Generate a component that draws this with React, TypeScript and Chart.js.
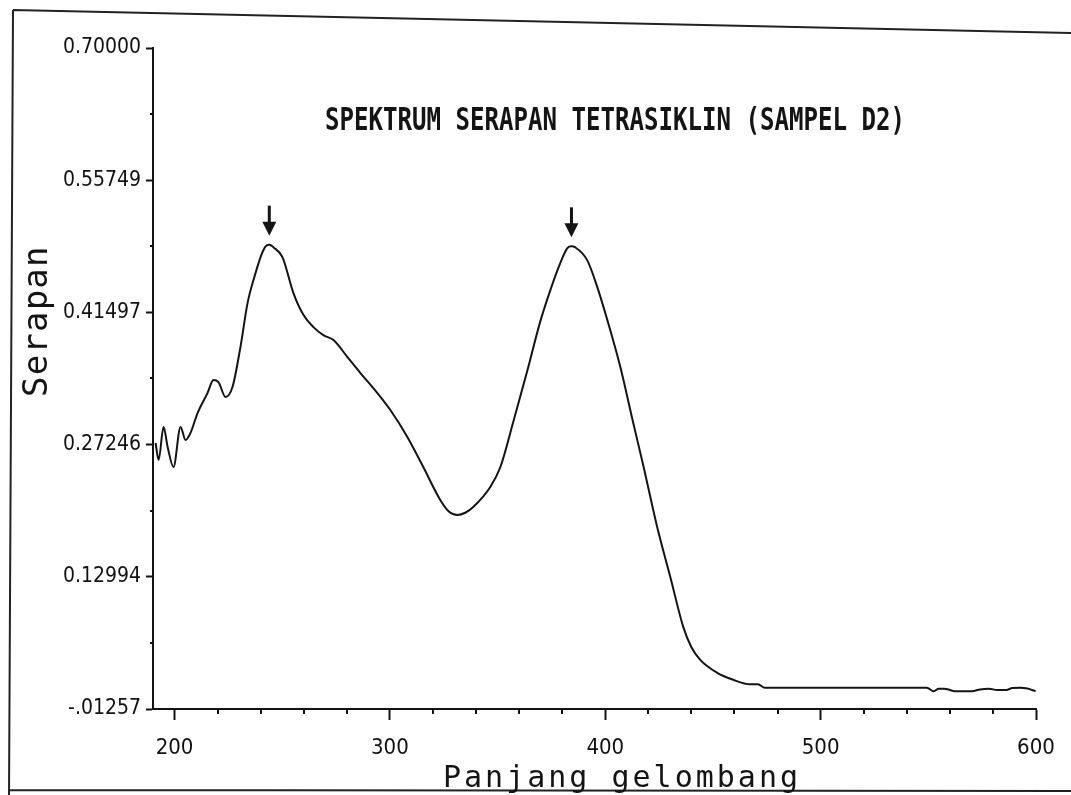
import React, { useEffect, useRef } from "react";
import { Chart, registerables } from "chart.js";

Chart.register(...registerables);

// ---- data ----
const wavelength = [
  191.2, 192.6, 194.9, 196.8, 199.5, 202.8, 205.1, 207.4, 210.7, 215.3,
  218.1, 220.4, 223.7, 226.9, 230.6, 233.9, 237.6, 240.5, 242.2, 244.0,
  246.0, 250.1, 255.2, 259.9, 264.5, 269.1, 273.8, 280.3, 286.3, 292.3,
  300.2, 308.1, 315.5, 323.4, 327.5, 331.3, 335.0, 338.7, 346.6, 351.3,
  357.3, 363.8, 369.8, 374.5, 379.1, 382.4, 384.3, 386.1, 391.6, 396.3,
  402.3, 407.0, 413.0, 417.6, 424.1, 430.2, 436.2, 440.0, 444.1, 452.0,
  459.4, 467.3, 470.9, 474.1, 490.0, 510.0, 530.0, 549.3, 552.5, 554.8,
  557.3, 560.0, 562.1, 566.0, 570.2, 574.0, 578.1, 582.0, 586.2, 589.0,
  592.6, 596.0, 599.8,
];
const absorbance = [
  0.2742, 0.2559, 0.2914, 0.2699, 0.2483, 0.2914, 0.2774, 0.285, 0.3065, 0.328,
  0.342, 0.3398, 0.3237, 0.3345, 0.3776, 0.425, 0.4573, 0.478, 0.486, 0.488,
  0.485, 0.4745, 0.4358, 0.4121, 0.3991, 0.3905, 0.3851, 0.3668, 0.3496, 0.3334,
  0.3097, 0.2807, 0.2483, 0.2128, 0.2, 0.1966, 0.199, 0.2052, 0.2268, 0.2483,
  0.297, 0.352, 0.405, 0.439, 0.4681, 0.4842, 0.4862, 0.485, 0.4713, 0.4422,
  0.3959, 0.356, 0.2957, 0.2505, 0.1837, 0.1298, 0.076, 0.054, 0.0404, 0.0264,
  0.0189, 0.0141, 0.0141, 0.0103, 0.0103, 0.0103, 0.0103, 0.0103, 0.0066, 0.0092,
  0.0092, 0.008, 0.0066, 0.0066, 0.0066, 0.0085, 0.0092, 0.008, 0.008, 0.01,
  0.0103, 0.0095, 0.0066,
];

const yTickValues = [-0.01257, 0.12994, 0.27246, 0.41497, 0.55749, 0.7];
const yTickLabels = ["-.01257", "0.12994", "0.27246", "0.41497", "0.55749", "0.70000"];
const xTickValues = [200, 300, 400, 500, 600];
const xTickLabels = ["200", "300", "400", "500", "600"];
const xMinorTickValues = [220, 240, 260, 280, 320, 340, 360, 380, 420, 440, 460, 480, 520, 540, 560, 580];
const yMinorTickValues = [0.058685, 0.2012, 0.343715, 0.48623, 0.628745];

const peakWavelengths = [244.0, 384.3];
const peakAbsorbances = [0.488, 0.4862];

const chartTitle = "SPEKTRUM SERAPAN TETRASIKLIN (SAMPEL D2)";
const xAxisTitle = "Panjang gelombang";
const yAxisTitle = "Serapan";

const INK = "#141414";

const decorPlugin = {
  id: "decor",
  beforeDraw(chart: any) {
    const ctx = chart.ctx;
    ctx.save();
    ctx.fillStyle = "#ffffff";
    ctx.fillRect(0, 0, chart.width, chart.height);
    // scanned page frame
    ctx.strokeStyle = "#222";
    ctx.lineWidth = 2;
    ctx.beginPath();
    ctx.moveTo(13, 10);
    ctx.lineTo(chart.width, 33);
    ctx.moveTo(13, 10);
    ctx.lineTo(9, chart.height);
    ctx.moveTo(9, 790);
    ctx.lineTo(chart.width, 791);
    ctx.stroke();
    ctx.restore();
  },
  afterDraw(chart: any) {
    const ctx = chart.ctx;
    const xs = chart.scales.x;
    const ys = chart.scales.y;
    const area = chart.chartArea;
    ctx.save();
    ctx.strokeStyle = INK;
    ctx.fillStyle = INK;
    ctx.lineWidth = 2;
    // minor ticks
    ctx.beginPath();
    xMinorTickValues.forEach((v) => {
      const px = Math.round(xs.getPixelForValue(v));
      ctx.moveTo(px, area.bottom);
      ctx.lineTo(px, area.bottom + 5);
    });
    yMinorTickValues.forEach((v) => {
      const py = Math.round(ys.getPixelForValue(v));
      ctx.moveTo(area.left, py);
      ctx.lineTo(area.left - 3, py);
    });
    ctx.stroke();

    // peak arrows
    peakWavelengths.forEach((w, i) => {
      const px = xs.getPixelForValue(w);
      const tip = ys.getPixelForValue(peakAbsorbances[i]) - 9;
      ctx.fillRect(px - 1.5, tip - 30, 3, 17);
      ctx.beginPath();
      ctx.moveTo(px - 7, tip - 14);
      ctx.lineTo(px + 7, tip - 14);
      ctx.lineTo(px, tip);
      ctx.closePath();
      ctx.fill();
    });

    // chart title (condensed printer style)
    ctx.font = 'bold 32px "DejaVu Sans Mono"';
    ctx.textAlign = "center";
    ctx.textBaseline = "alphabetic";
    const w = ctx.measureText(chartTitle).width;
    ctx.save();
    ctx.translate(area.left + 462, area.top + 82);
    ctx.scale(580 / w, 1);
    ctx.fillText(chartTitle, 0, 0);
    ctx.restore();

    // x axis title
    ctx.font = '30px "DejaVu Sans Mono"';
    (ctx as any).letterSpacing = "3px";
    ctx.textAlign = "left";
    ctx.fillText(xAxisTitle, 443, 787);

    // y axis title
    ctx.font = '34px "DejaVu Sans Mono"';
    (ctx as any).letterSpacing = "1.2px";
    ctx.save();
    ctx.translate(47, 397);
    ctx.rotate(-Math.PI / 2);
    ctx.textAlign = "left";
    ctx.fillText(yAxisTitle, 0, 0);
    ctx.restore();
    (ctx as any).letterSpacing = "0px";
    ctx.restore();
  },
};

export default function App() {
  const canvasRef = useRef<HTMLCanvasElement | null>(null);

  useEffect(() => {
    document.body.style.margin = "0";
    const canvas = canvasRef.current;
    if (!canvas) return;
    const points = wavelength.map((w, i) => ({ x: w, y: absorbance[i] }));
    const tickFamily = "'DejaVu Sans Condensed', 'DejaVu Sans', sans-serif";
    const chart = new Chart(canvas, {
      type: "line",
      data: {
        datasets: [
          {
            data: points,
            borderColor: INK,
            borderWidth: 2,
            pointRadius: 0,
            fill: false,
            cubicInterpolationMode: "monotone",
          },
        ],
      },
      options: {
        animation: false,
        responsive: false,
        devicePixelRatio: 1,
        layout: { padding: { top: 48, right: 35, left: 0, bottom: 0 } },
        plugins: {
          legend: { display: false },
          title: { display: false },
          tooltip: { enabled: false },
        },
        scales: {
          x: {
            type: "linear",
            min: 190,
            max: 600,
            afterFit: (scale: any) => {
              scale.height = 86;
            },
            afterBuildTicks: (scale: any) => {
              scale.ticks = xTickValues.map((v) => ({ value: v }));
            },
            ticks: {
              autoSkip: false,
              maxRotation: 0,
              color: "#111",
              padding: 15,
              font: { family: tickFamily, size: 22 },
              callback: (_v: any, i: number) => xTickLabels[i],
            },
            grid: {
              display: true,
              drawOnChartArea: false,
              drawTicks: true,
              tickLength: 11,
              tickColor: INK,
              tickWidth: 2,
              color: INK,
            },
            border: { display: true, color: INK, width: 2 },
          },
          y: {
            type: "linear",
            min: -0.01257,
            max: 0.7,
            afterFit: (scale: any) => {
              scale.width = 153;
            },
            afterBuildTicks: (scale: any) => {
              scale.ticks = yTickValues.map((v) => ({ value: v }));
            },
            ticks: {
              autoSkip: false,
              color: "#111",
              padding: 5,
              font: { family: tickFamily, size: 21 },
              callback: (_v: any, i: number) => yTickLabels[i],
            },
            grid: {
              display: true,
              drawOnChartArea: false,
              drawTicks: true,
              tickLength: 7,
              tickColor: INK,
              tickWidth: 2,
              color: INK,
            },
            border: { display: true, color: INK, width: 2 },
          },
        },
      },
      plugins: [decorPlugin],
    } as any);
    return () => chart.destroy();
  }, []);

  return (
    <div style={{ width: 1071, height: 795, position: "relative" }}>
      <canvas ref={canvasRef} width={1071} height={795} style={{ display: "block" }} />
    </div>
  );
}
